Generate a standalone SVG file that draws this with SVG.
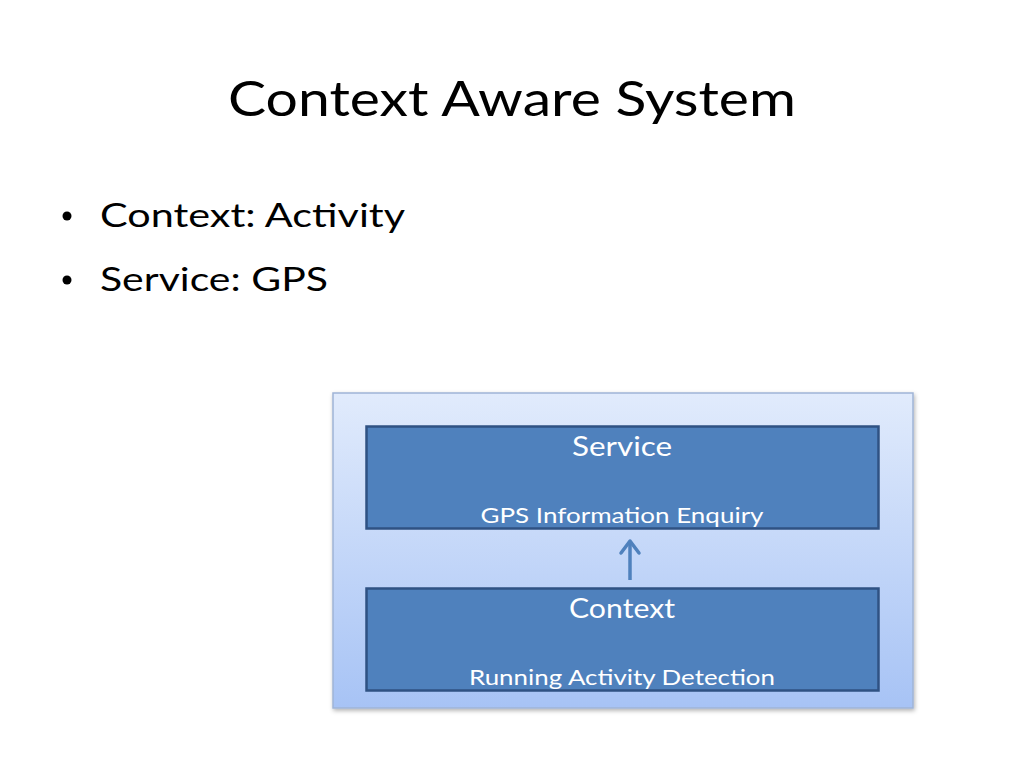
<svg xmlns="http://www.w3.org/2000/svg" width="1024" height="768" viewBox="0 0 1024 768">
<style>
text{font-family:Lato,"Open Sans","Liberation Sans",sans-serif}
.t{fill:#000}
.w{fill:#fff;text-anchor:middle}
.box{fill:#4f81bd;stroke:#2f5283;stroke-width:2.5}
</style>
<defs>
<linearGradient id="g" x1="0" y1="0" x2="0" y2="1">
<stop offset="0" stop-color="#e1ebfc"/>
<stop offset="1" stop-color="#a7c3f5"/>
</linearGradient>
<filter id="sh" x="-5%" y="-5%" width="110%" height="115%">
<feDropShadow dx="1" dy="2" stdDeviation="2" flood-color="#000" flood-opacity="0.3"/>
</filter>
<marker id="ah" viewBox="0 0 10 10" refX="5" refY="2" markerWidth="5" markerHeight="5" orient="auto-start-reverse" markerUnits="userSpaceOnUse">
</marker>
</defs>
<rect width="1024" height="768" fill="#fff"/>
<text class="t" x="512" y="116" font-size="48" text-anchor="middle" textLength="568" lengthAdjust="spacingAndGlyphs">Context Aware System</text>
<g id="bullets">
<circle cx="67" cy="216" r="4.5" fill="#000"/>
<text class="t" x="100" y="227" font-size="32" textLength="305" lengthAdjust="spacingAndGlyphs">Context: Activity</text>
<circle cx="67" cy="280" r="4.5" fill="#000"/>
<text class="t" x="100" y="291" font-size="32" textLength="228" lengthAdjust="spacingAndGlyphs">Service: GPS</text>
</g>
<g id="container">
<rect x="333" y="393" width="580" height="315" fill="url(#g)" stroke="#9fb4d6" stroke-width="1.5" filter="url(#sh)"/>
</g>
<g id="service">
<rect class="box" x="366.5" y="426.5" width="512" height="102"/>
<text class="w" x="622" y="456" font-size="26" textLength="100" lengthAdjust="spacingAndGlyphs">Service</text>
<text class="w" x="622" y="523" font-size="22" textLength="283" lengthAdjust="spacingAndGlyphs">GPS Information Enquiry</text>
</g>
<g id="context">
<rect class="box" x="366.5" y="588.5" width="512" height="102"/>
<text class="w" x="622" y="618" font-size="26" textLength="106" lengthAdjust="spacingAndGlyphs">Context</text>
<text class="w" x="622" y="685" font-size="22" textLength="306" lengthAdjust="spacingAndGlyphs">Running Activity Detection</text>
</g>
<g id="connectors">
<line x1="630" y1="580" x2="630" y2="543" stroke="#4f81bd" stroke-width="3.5"/>
<polyline points="621,553 630,541 639,553" fill="none" stroke="#4f81bd" stroke-width="3.5" stroke-linecap="round" stroke-linejoin="round"/>
</g>
</svg>
